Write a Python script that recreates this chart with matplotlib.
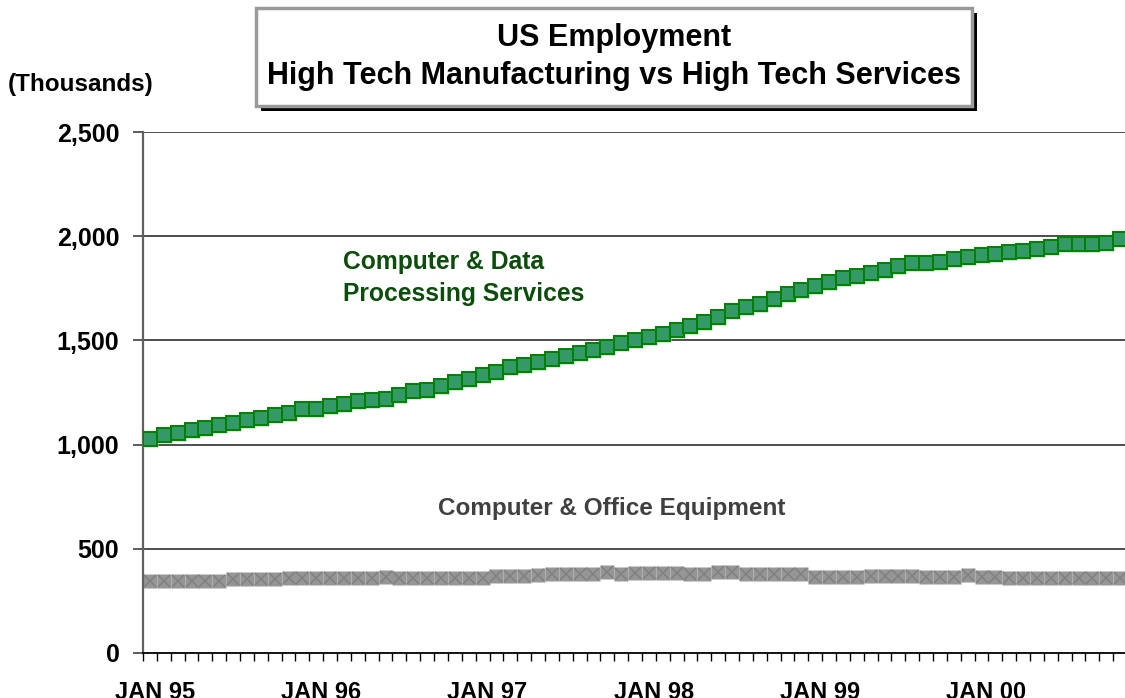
import numpy as np
import matplotlib
matplotlib.use("Agg")
import matplotlib.pyplot as plt
from matplotlib.patches import Rectangle
from matplotlib.ticker import FixedLocator, FuncFormatter

plt.rcParams['font.family'] = ['Liberation Sans', 'DejaVu Sans']

# monthly values, JAN 95 .. NOV 00 (thousands)
services = [1025, 1045, 1056, 1068, 1081, 1092, 1105, 1117, 1128, 1141, 1153, 1171,
            1171, 1184, 1195, 1208, 1214, 1220, 1238, 1257, 1262, 1280, 1299, 1315,
            1334, 1350, 1371, 1382, 1395, 1412, 1427, 1441, 1454, 1467, 1486, 1502,
            1515, 1532, 1551, 1569, 1587, 1612, 1641, 1660, 1673, 1697, 1721, 1742,
            1763, 1780, 1798, 1811, 1823, 1839, 1859, 1870, 1870, 1878, 1889, 1900,
            1908, 1913, 1926, 1930, 1937, 1950, 1961, 1961, 1961, 1967, 1985]
equipment = [347, 347, 347, 347, 347, 347, 355, 355, 355, 355, 361, 361,
             361, 361, 361, 361, 361, 366, 361, 361, 361, 361, 361, 361,
             361, 369, 369, 369, 376, 380, 380, 380, 380, 387, 381, 385,
             385, 385, 385, 381, 381, 387, 387, 381, 381, 381, 381, 381,
             365, 365, 365, 365, 371, 371, 371, 371, 365, 365, 365, 373,
             365, 365, 360, 360, 360, 360, 360, 360, 360, 360, 360]
year_labels = ["JAN 95", "JAN 96", "JAN 97", "JAN 98", "JAN 99", "JAN 00"]
y_ticks = [0, 500, 1000, 1500, 2000, 2500]

x = np.arange(len(services))

W, H = 1125, 698
fig = plt.figure(figsize=(W / 100, H / 100), dpi=100)
ax = fig.add_axes([143 / W, 45 / H, 982 / W, 521 / H])


def fig_xy(px, py):
    # pixel position from top-left -> figure fraction
    return px / W, 1 - py / H


# grid lines
for v in y_ticks[1:]:
    ax.axhline(v, color="#404040", lw=1.3, zorder=1)

# Computer & Office Equipment: grey band with x markers
ax.plot(x, equipment, ls="none", marker="s", ms=10.4, mfc="#969696", mec="none", zorder=2)
ax.plot(x, equipment, ls="none", marker="x", ms=8.5, mec="#808080", mew=1.1, zorder=3)

# Computer & Data Processing Services: green squares
ax.plot(x, services, color="#7fcf7f", lw=1.0, zorder=3)
ax.plot(x, services, ls="none", marker="s", ms=10.8, mfc="#9ad89a", mec="none", zorder=3)
ax.plot(x, services, ls="none", marker="s", ms=9.4, mfc="#339966", mec="#008000",
        mew=1.4, zorder=4)

ax.set_xlim(-0.5, 70.35)
ax.set_ylim(0, 2500)

for s in ["top", "right"]:
    ax.spines[s].set_visible(False)
ax.spines["left"].set_color("#606060")
ax.spines["left"].set_linewidth(1.6)
ax.spines["bottom"].set_color("#000000")
ax.spines["bottom"].set_linewidth(1.3)

ax.set_yticks(y_ticks)
ax.yaxis.set_major_formatter(FuncFormatter(lambda v, p: f"{int(v):,}"))
ax.tick_params(axis="y", length=7, width=1.2, color="#404040", pad=10,
               labelsize=18)
for lab in ax.get_yticklabels():
    lab.set_fontweight("bold")

ax.set_xticks([i * 12 + 0.35 for i in range(len(year_labels))])
ax.set_xticklabels(year_labels, fontsize=17, fontweight="bold")
ax.xaxis.set_minor_locator(FixedLocator(np.arange(-0.5, 71, 1.0)))
ax.tick_params(axis="x", which="major", length=0, pad=20)
ax.tick_params(axis="x", which="minor", length=6, width=1.0, color="#000000")

fig.text(*fig_xy(343, 278), "Computer & Data\nProcessing Services",
         color="#0b4d0b", fontsize=17.7, fontweight="bold", ha="left", va="center",
         linespacing=1.4)
fig.text(*fig_xy(438, 509), "Computer & Office Equipment",
         color="#404040", fontsize=17.5, fontweight="bold", ha="left", va="center")

fig.text(*fig_xy(8, 84), "(Thousands)", fontsize=17.5, fontweight="bold",
         ha="left", va="center")

# title box with drop shadow
bx0, by0, bx1, by1 = 256, 8, 972, 106
fig.patches.append(Rectangle(fig_xy(bx0 + 5, by1 + 5), (bx1 - bx0) / W, (by1 - by0) / H,
                             transform=fig.transFigure, facecolor="black",
                             edgecolor="none", zorder=0))
fig.patches.append(Rectangle(fig_xy(bx0, by1), (bx1 - bx0) / W, (by1 - by0) / H,
                             transform=fig.transFigure, facecolor="white",
                             edgecolor="#9a9a9a", lw=2.5, zorder=1))
fig.text(*fig_xy(614, 38), "US Employment",
         fontsize=22, fontweight="bold", ha="center", va="center")
fig.text(*fig_xy(614, 76), "High Tech Manufacturing vs High Tech Services",
         fontsize=22, fontweight="bold", ha="center", va="center")

fig.savefig("out.png", dpi=100)
